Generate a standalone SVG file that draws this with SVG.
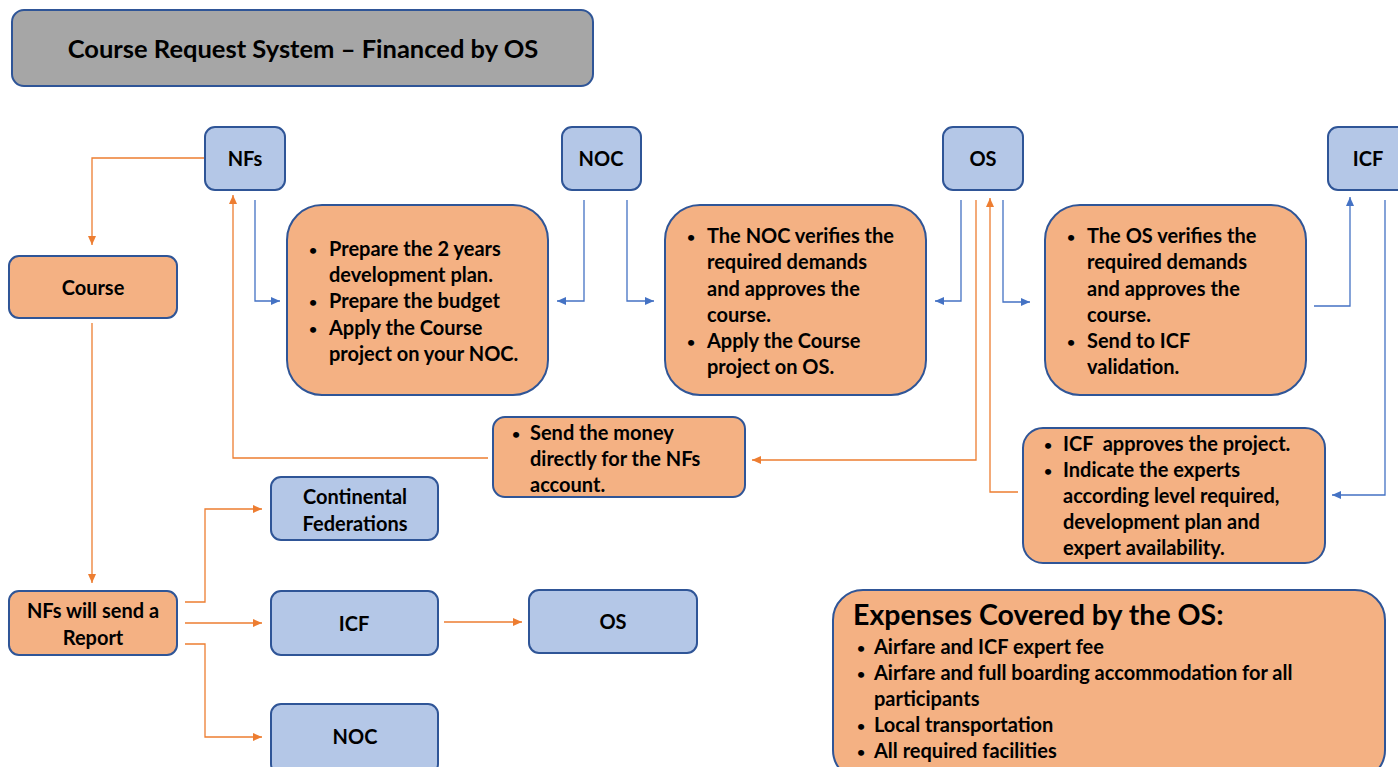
<svg xmlns="http://www.w3.org/2000/svg" width="1398" height="767" viewBox="0 0 1398 767">
<style>
.blue{fill:#b4c7e7;stroke:#2f5597;stroke-width:2}
.org{fill:#f4b183;stroke:#2f5597;stroke-width:2}
.gray{fill:#a6a6a6;stroke:#2f5597;stroke-width:2}
text{font-family:Lato,"Liberation Sans",sans-serif;font-weight:bold;fill:#000;font-size:20px}
.c{text-anchor:middle;dominant-baseline:central}
.bu{font-size:14px}
.ob{fill:none;stroke:#ed7d31;stroke-width:1.3}
.bl{fill:none;stroke:#4472c4;stroke-width:1.3}
</style>
<defs>
<marker id="ao" markerWidth="10" markerHeight="10" refX="9" refY="5" orient="auto" markerUnits="userSpaceOnUse"><path d="M0,1 L9,5 L0,9 Z" fill="#ed7d31"/></marker>
<marker id="ab" markerWidth="10" markerHeight="10" refX="9" refY="5" orient="auto" markerUnits="userSpaceOnUse"><path d="M0,1 L9,5 L0,9 Z" fill="#4472c4"/></marker>
</defs>
<rect width="1398" height="767" fill="#fff"/>
<g id="connectors">
<polyline class="ob" points="205,158 92,158 92,245" marker-end="url(#ao)"/>
<polyline class="ob" points="92,323 92,583" marker-end="url(#ao)"/>
<polyline class="ob" points="185,602 205,602 205,509 262,509" marker-end="url(#ao)"/>
<polyline class="ob" points="185,623 262,623" marker-end="url(#ao)"/>
<polyline class="ob" points="185,644 205,644 205,737 262,737" marker-end="url(#ao)"/>
<polyline class="ob" points="444,622 522,622" marker-end="url(#ao)"/>
<polyline class="ob" points="488,458 233,458 233,195" marker-end="url(#ao)"/>
<polyline class="ob" points="976,200 976,460 752,460" marker-end="url(#ao)"/>
<polyline class="ob" points="1018,492 990,492 990,198" marker-end="url(#ao)"/>
<polyline class="bl" points="255,200 255,301 280,301" marker-end="url(#ab)"/>
<polyline class="bl" points="584,200 584,301 557,301" marker-end="url(#ab)"/>
<polyline class="bl" points="627,200 627,301 654,301" marker-end="url(#ab)"/>
<polyline class="bl" points="961,200 961,301 935,301" marker-end="url(#ab)"/>
<polyline class="bl" points="1003,200 1003,302 1030,302" marker-end="url(#ab)"/>
<polyline class="bl" points="1314,306 1350,306 1350,197" marker-end="url(#ab)"/>
<polyline class="bl" points="1385,200 1385,495 1332,495" marker-end="url(#ab)"/>
</g>
<g id="title"><rect class="gray" x="12" y="10" width="581" height="76" rx="12"/><text class="c" x="303" y="48" style="font-size:25.5px">Course Request System – Financed by OS</text></g>
<g id="nfs"><rect class="blue" x="205" y="127" width="80" height="63" rx="10"/><text class="c" x="245" y="158">NFs</text></g>
<g id="noc"><rect class="blue" x="562" y="127" width="79" height="63" rx="10"/><text class="c" x="601" y="158">NOC</text></g>
<g id="os"><rect class="blue" x="943" y="127" width="80" height="63" rx="10"/><text class="c" x="983" y="158">OS</text></g>
<g id="icf"><rect class="blue" x="1328" y="127" width="82" height="63" rx="10"/><text class="c" x="1368" y="158">ICF</text></g>
<g id="course"><rect class="org" x="9" y="256" width="168" height="62" rx="10"/><text class="c" x="93" y="287">Course</text></g>
<g id="step-nfs"><rect class="org" x="287" y="205" width="261" height="190" rx="35"/>
<text class="bu" x="309" y="255">•</text><text x="329" y="256">Prepare the 2 years</text>
<text x="329" y="282">development plan.</text>
<text class="bu" x="309" y="307">•</text><text x="329" y="308">Prepare the budget</text>
<text class="bu" x="309" y="334">•</text><text x="329" y="335">Apply the Course</text>
<text x="329" y="361">project on your NOC.</text></g>
<g id="step-noc"><rect class="org" x="665" y="205" width="261" height="190" rx="35"/>
<text class="bu" x="687" y="242">•</text><text x="707" y="243">The NOC verifies the</text>
<text x="707" y="269">required demands</text>
<text x="707" y="296">and approves the</text>
<text x="707" y="322">course.</text>
<text class="bu" x="687" y="347">•</text><text x="707" y="348">Apply the Course</text>
<text x="707" y="374">project on OS.</text></g>
<g id="step-os"><rect class="org" x="1045" y="205" width="261" height="190" rx="35"/>
<text class="bu" x="1067" y="242">•</text><text x="1087" y="243">The OS verifies the</text>
<text x="1087" y="269">required demands</text>
<text x="1087" y="296">and approves the</text>
<text x="1087" y="322">course.</text>
<text class="bu" x="1067" y="347">•</text><text x="1087" y="348">Send to ICF</text>
<text x="1087" y="374">validation.</text></g>
<g id="money"><rect class="org" x="493" y="417" width="252" height="80" rx="12"/>
<text class="bu" x="512" y="439">•</text><text x="530" y="440">Send the money</text>
<text x="530" y="466">directly for the NFs</text>
<text x="530" y="492">account.</text></g>
<g id="icf-approves"><rect class="org" x="1023" y="428" width="302" height="135" rx="20"/>
<text class="bu" x="1044" y="450">•</text><text x="1063" y="451" xml:space="preserve" style="white-space:pre">ICF  approves the project.</text>
<text class="bu" x="1044" y="476">•</text><text x="1063" y="477">Indicate the experts</text>
<text x="1063" y="503">according level required,</text>
<text x="1063" y="529">development plan and</text>
<text x="1063" y="555">expert availability.</text></g>
<g id="continental"><rect class="blue" x="271" y="477" width="167" height="63" rx="10"/><text class="c" x="355" y="496">Continental</text><text class="c" x="355" y="523">Federations</text></g>
<g id="report"><rect class="org" x="9" y="591" width="168" height="64" rx="10"/><text class="c" x="93" y="610">NFs will send a</text><text class="c" x="93" y="637">Report</text></g>
<g id="icf2"><rect class="blue" x="271" y="591" width="167" height="64" rx="10"/><text class="c" x="354" y="623">ICF</text></g>
<g id="os2"><rect class="blue" x="529" y="590" width="168" height="63" rx="10"/><text class="c" x="613" y="621">OS</text></g>
<g id="noc2"><rect class="blue" x="271" y="704" width="167" height="70" rx="10"/><text class="c" x="355" y="736">NOC</text></g>
<g id="expenses"><rect class="org" x="833" y="590" width="552" height="190" rx="30"/>
<text x="853" y="625" style="font-size:28.5px">Expenses Covered by the OS:</text>
<text class="bu" x="857" y="653">•</text><text x="874" y="654">Airfare and ICF expert fee</text>
<text class="bu" x="857" y="679">•</text><text x="874" y="680">Airfare and full boarding accommodation for all</text>
<text x="874" y="706">participants</text>
<text class="bu" x="857" y="731">•</text><text x="874" y="732">Local transportation</text>
<text class="bu" x="857" y="757">•</text><text x="874" y="758">All required facilities</text></g>
</svg>
